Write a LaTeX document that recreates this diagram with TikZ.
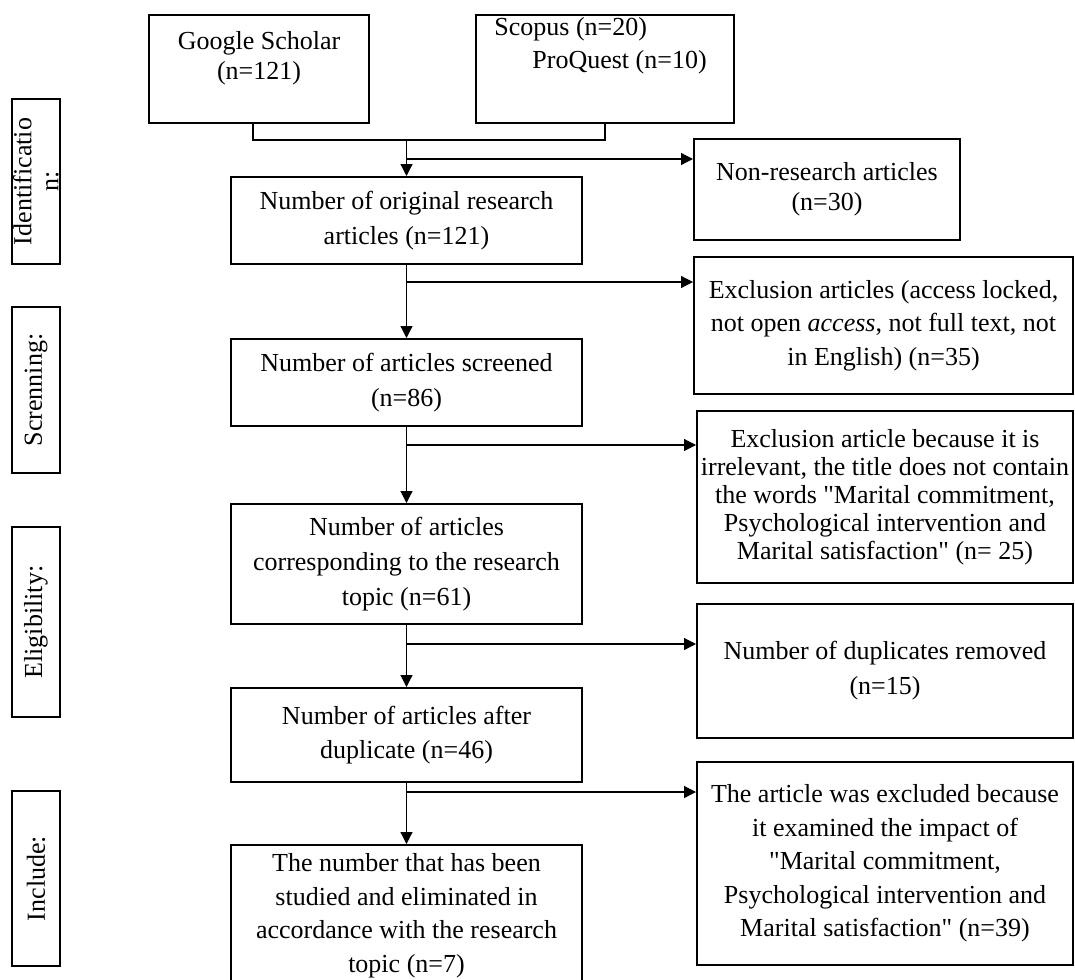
\documentclass[tikz,border=0pt]{standalone}
\usepackage{fontspec}
\setmainfont{Liberation Serif}[Ligatures=TeXOff]
\usetikzlibrary{arrows.meta, positioning}

\begin{document}
\begin{tikzpicture}[
        x=0.5pt, y=-0.5pt,
        box/.style={draw, line width=1pt, align=center, inner sep=0pt, font=\fontsize{13}{17.5}\selectfont},
        midbox/.style={box, minimum width=175.5pt},
        sidebox/.style={box, minimum width=188pt},
        phase/.style={draw, line width=1pt, rotate=90, align=center, inner sep=0pt, minimum height=24pt, font=\fontsize{13}{13.5}\selectfont},
        line/.style={line width=0.6pt},
        arrow/.style={line, -{Triangle[length=6pt, width=6pt]}}
    ]
        \useasboundingbox (0,0) rectangle (1075,979);

        % sources
        \node[box, minimum width=110pt, minimum height=54pt] (gs) at (259,69) {};
        \node[font=\fontsize{13}{15}\selectfont, align=center, inner sep=0pt] (gstext) at (259,58) {Google Scholar\\(n=121)};
        \node[box, minimum width=129pt, minimum height=54pt] (sc) at (605,69) {};
        \node[anchor=west, inner sep=0pt, font=\fontsize{13}{15}\selectfont] (sctext) at (494,29) {Scopus (n=20)};
        \node[anchor=west, inner sep=0pt, font=\fontsize{13}{15}\selectfont] (pqtext) at (532,62) {ProQuest (n=10)};

        % main column
        \node[midbox, minimum height=43.5pt] (orig) at (406.5,220.5) {Number of original research\\articles (n=121)};
        \node[midbox, minimum height=43.5pt, below=36.5pt of orig] (screen) {Number of articles screened\\(n=86)};
        \node[midbox, minimum height=60pt, below=38pt of screen] (topic) {Number of articles\\corresponding to the research\\topic (n=61)};
        \node[midbox, minimum height=47pt, below=31pt of topic, font=\fontsize{13}{17}\selectfont] (after) {Number of articles after\\duplicate (n=46)};
        \node[midbox, minimum height=70.5pt, below=30.5pt of after, font=\fontsize{13}{16.75}\selectfont] (final) {The number that has been\\studied and eliminated in\\accordance with the research\\topic (n=7)};

        % excluded
        \node[box, minimum width=133pt, minimum height=50.5pt, font=\fontsize{13}{15}\selectfont] (nonres) at (827,189.5) {Non-research articles\\(n=30)};
        \node[box, minimum width=189.5pt, minimum height=68.5pt, font=\fontsize{13}{16.75}\selectfont] (excl1) at (883.5,325.5) {Exclusion articles (access locked,\\not open \textit{access}, not full text, not\\in English) (n=35)};
        \node[sidebox, minimum height=86pt, font=\fontsize{13}{14}\selectfont] (excl2) at (885,497) {Exclusion article because it is\\irrelevant, the title does not contain\\the words "Marital commitment,\\Psychological intervention and\\Marital satisfaction" (n= 25)};
        \node[sidebox, minimum height=67pt] (dupl) at (885,671) {Number of duplicates removed\\(n=15)};
        \node[sidebox, minimum height=101.5pt, font=\fontsize{13}{16.75}\selectfont] (excl3) at (885,863.5) {The article was excluded because\\it examined the impact of\\"Marital commitment,\\Psychological intervention and\\Marital satisfaction" (n=39)};

        % phases
        \node[phase, minimum width=82.5pt] (ident) at (36,181.5) {Identificatio\\n:};
        \node[phase, minimum width=83pt] (scr) at (36,390) {Screnning:};
        \node[phase, minimum width=95pt] (elig) at (36,622) {Eligibility:};
        \node[phase, minimum width=87.5pt] (incl) at (36,878.5) {Include:};

        % connectors
        \coordinate (join) at (406.5,140);
        \draw[line] ([xshift=-3pt]gs.south) |- (join) -| (sc.south);
        \draw[arrow] (join) -- (orig.north);
        \draw[arrow] (orig.south) -- (screen.north);
        \draw[arrow] (screen.south) -- (topic.north);
        \draw[arrow] (topic.south) -- (after.north);
        \draw[arrow] (after.south) -- (final.north);

        \coordinate (b1) at (406.5,159);
        \coordinate (b2) at (406.5,282);
        \coordinate (b3) at (406.5,445);
        \coordinate (b4) at (406.5,644);
        \coordinate (b5) at (406.5,792);
        \draw[arrow] (b1) -- (b1 -| nonres.west);
        \draw[arrow] (b2) -- (b2 -| excl1.west);
        \draw[arrow] (b3) -- (b3 -| excl2.west);
        \draw[arrow] (b4) -- (b4 -| dupl.west);
        \draw[arrow] (b5) -- (b5 -| excl3.west);
    \end{tikzpicture}
\end{document}
